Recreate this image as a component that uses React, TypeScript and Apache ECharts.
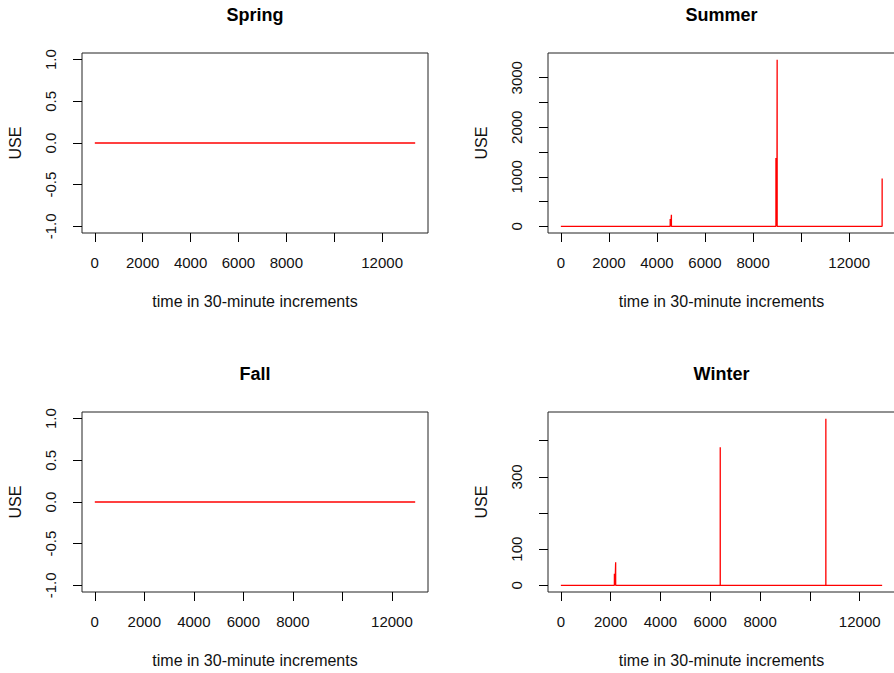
import React, { useEffect, useRef } from 'react';
import * as echarts from 'echarts';

// ---- Data (time index in 30-minute increments, USE values) ----
const springTime = [1, 13380];
const springUse = [0, 0];

const summerTime = [1, 4550, 4551, 4552, 4575, 4576, 4577, 4600, 4601, 4602, 8950, 8951, 8952, 8970, 8971, 8972, 8988, 8989, 8990, 9000, 9001, 9002, 13369, 13370];
const summerUse = [0, 0, 148, 0, 0, 148, 0, 0, 234, 0, 0, 1380, 0, 0, 1300, 0, 0, 1350, 0, 0, 3365, 0, 0, 968];

const fallTime = [1, 12940];
const fallUse = [0, 0];

const winterTime = [1, 2150, 2151, 2152, 2175, 2176, 2177, 2200, 2201, 2202, 6399, 6400, 6401, 10639, 10640, 10641, 12900];
const winterUse = [0, 0, 32, 0, 0, 32, 0, 0, 64, 0, 0, 382, 0, 0, 461, 0, 0];

// ---- Tick values / labels ----
const xTickValues = [0, 2000, 4000, 6000, 8000, 10000, 12000];
const xLabelValues = [0, 2000, 4000, 6000, 8000, 12000];

const flatYTicks = [-1, -0.5, 0, 0.5, 1];
const flatYLabels = [-1, -0.5, 0, 0.5, 1];
const summerYTicks = [0, 500, 1000, 1500, 2000, 2500, 3000];
const summerYLabels = [0, 1000, 2000, 3000];
const winterYTicks = [0, 100, 200, 300, 400];
const winterYLabels = [0, 100, 300];

const titles = ['Spring', 'Summer', 'Fall', 'Winter'];

const FONT = 'Liberation Sans, Arial, Helvetica, sans-serif';

function rRange(lo: number, hi: number): [number, number] {
  if (lo === hi) {
    if (lo === 0) { lo = -1; hi = 1; } else { lo = lo * 0.6; hi = hi * 1.4; }
  }
  const d = (hi - lo) * 0.04;
  return [lo - d, hi + d];
}

export default function App() {
  const ref = useRef<HTMLDivElement>(null);
  useEffect(() => {
    if (!ref.current) return;
    const chart = echarts.init(ref.current, undefined, { renderer: 'svg' });

    const panels = [
      { time: springTime, use: springUse, yTicks: flatYTicks, yLabels: flatYLabels, dec: 1, grid: { left: 82, top: 53, width: 346, height: 180 } },
      { time: summerTime, use: summerUse, yTicks: summerYTicks, yLabels: summerYLabels, dec: 0, grid: { left: 548, top: 53, width: 347, height: 180 } },
      { time: fallTime, use: fallUse, yTicks: flatYTicks, yLabels: flatYLabels, dec: 1, grid: { left: 82, top: 412, width: 346, height: 180 } },
      { time: winterTime, use: winterUse, yTicks: winterYTicks, yLabels: winterYLabels, dec: 0, grid: { left: 548, top: 412, width: 347, height: 180 } },
    ];

    const tickStyle = { color: '#000', width: 1 };
    const labelStyle = { color: '#111', fontSize: 15, fontFamily: FONT };
    const nameStyle = { color: '#111', fontSize: 16, fontFamily: FONT };

    const option: any = {
      animation: false,
      backgroundColor: '#fff',
      title: panels.map((p, i) => ({
        text: titles[i],
        left: p.grid.left + p.grid.width / 2,
        top: p.grid.top - 47,
        textAlign: 'center',
        padding: 0,
        textStyle: { color: '#000', fontSize: 18, fontWeight: 'bold', fontFamily: FONT },
      })),
      grid: panels.map((p) => ({
        ...p.grid,
        show: true,
        borderColor: '#222',
        borderWidth: 1,
        backgroundColor: 'transparent',
        containLabel: false,
        outerBoundsMode: 'none',
      })),
      xAxis: panels.map((p, i) => {
        const [mn, mx] = rRange(Math.min(...p.time), Math.max(...p.time));
        return {
          type: 'value',
          gridIndex: i,
          position: 'bottom',
          min: mn,
          max: mx,
          name: 'time in 30-minute increments',
          nameLocation: 'middle',
          nameGap: 60,
          nameTextStyle: nameStyle,
          axisLine: { show: false, onZero: false },
          splitLine: { show: false },
          axisTick: { show: true, inside: false, length: 9, lineStyle: tickStyle, customValues: xTickValues },
          axisLabel: { ...labelStyle, margin: 22, customValues: xLabelValues, formatter: (v: number) => String(v) },
        };
      }),
      yAxis: panels.map((p, i) => {
        const [mn, mx] = rRange(Math.min(...p.use), Math.max(...p.use));
        return {
          type: 'value',
          gridIndex: i,
          position: 'left',
          min: mn,
          max: mx,
          name: 'USE',
          nameLocation: 'middle',
          nameGap: 59,
          nameTextStyle: nameStyle,
          axisLine: { show: false, onZero: false },
          splitLine: { show: false },
          axisTick: { show: true, inside: false, length: 9, lineStyle: tickStyle, customValues: p.yTicks },
          axisLabel: {
            ...labelStyle,
            rotate: 90,
            margin: 24,
            customValues: p.yLabels,
            formatter: (v: number) => v.toFixed(p.dec),
          },
        };
      }),
      series: panels.map((p, i) => ({
        type: 'line',
        xAxisIndex: i,
        yAxisIndex: i,
        symbol: 'none',
        clip: true,
        lineStyle: { color: '#ff0000', width: 1.3 },
        data: p.time.map((t, k) => [t, p.use[k]]),
      })),
    };

    chart.setOption(option);
    return () => chart.dispose();
  }, []);

  return (
    <div
      ref={ref}
      style={{ position: 'absolute', left: 0, top: 0, width: 894, height: 673, background: '#fff' }}
    />
  );
}
